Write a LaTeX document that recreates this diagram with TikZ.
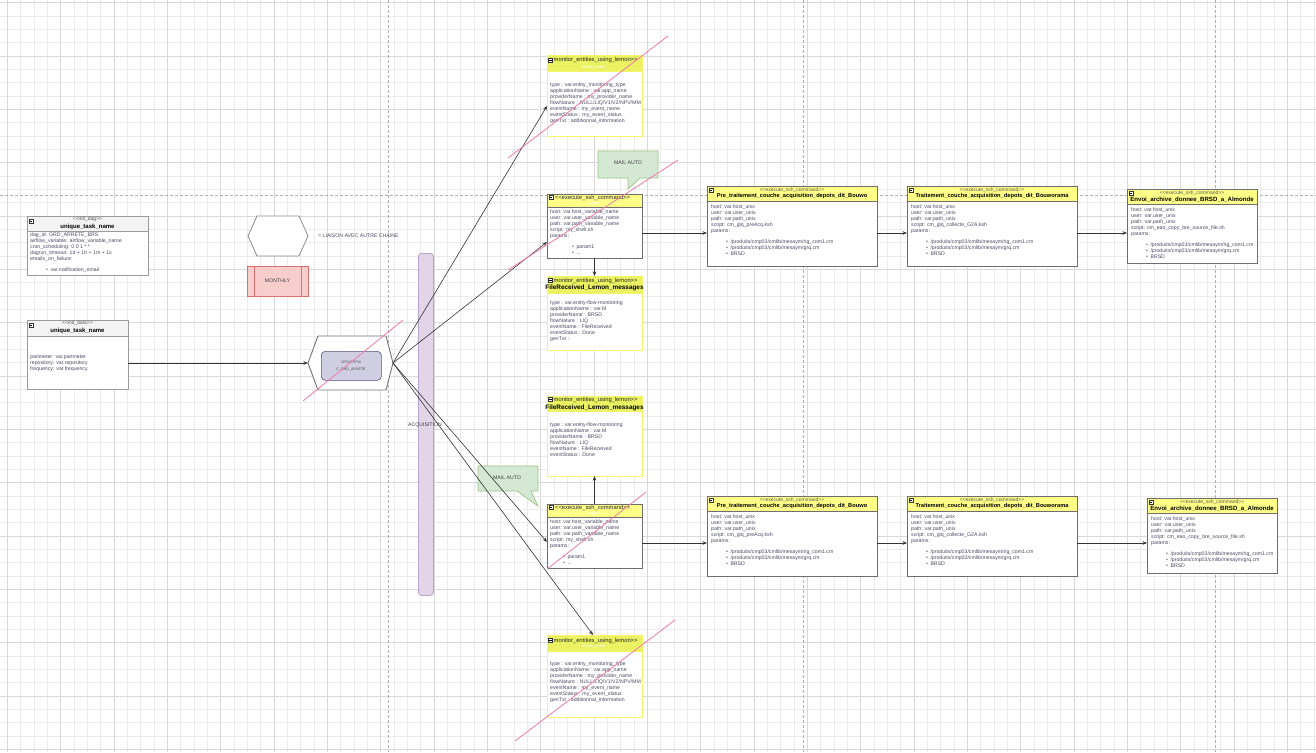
\documentclass[tikz,border=0pt]{standalone}
\usepackage{fontspec}
\setmainfont{Liberation Sans}
\usetikzlibrary{arrows.meta}
\definecolor{gridminor}{HTML}{EBEBEB}
\definecolor{gridmajor}{HTML}{D9D9D9}
\definecolor{pagebrk}{HTML}{AFAFAF}
\definecolor{bodyc}{HTML}{4A4A66}
\definecolor{titlec}{HTML}{555555}
\definecolor{initfill}{HTML}{F3F3F3}
\definecolor{initdraw}{HTML}{9A9A9A}
\definecolor{sshfill}{HTML}{FFFF88}
\definecolor{sshdraw}{HTML}{6E6E6E}
\definecolor{monfill}{HTML}{EAF262}
\definecolor{mondraw}{HTML}{F5F56A}
\definecolor{pinkc}{HTML}{F27AA8}
\definecolor{connc}{HTML}{333333}
\definecolor{mailfill}{HTML}{D5E8D4}
\definecolor{maildraw}{HTML}{9CC487}
\definecolor{monthfill}{HTML}{F8CECC}
\definecolor{monthdraw}{HTML}{D9716C}
\definecolor{acqfill}{HTML}{E1D5E7}
\definecolor{acqdraw}{HTML}{B9A3C9}
\definecolor{updfill}{HTML}{D0CEE2}
\definecolor{upddraw}{HTML}{56517E}
\newcommand\LL{<\kern0pt<}
\newcommand\GG{>\kern0pt>}
\newcommand\bl[2]{\hspace*{#1pt}\textbullet\hspace{2.5pt}#2}
\newcommand{\umlbox}[9]{%
  \node[anchor=north west, minimum width=#4pt, minimum height=#5pt, inner sep=0pt, outer sep=0pt] (#1) at (#2,#3) {};
  \fill[white] (#2,#3) rectangle ++(#4,#5);
  \fill[#7] (#2,#3) rectangle ++(#4,#6);
  \draw[#8, line width=#9] (#2,#3) rectangle ++(#4,#5);
  \draw[#8, line width=0.5pt] (#2,#3+#6) -- ++(#4,0);
}
\newcommand{\mico}[2]{%
  \draw[line width=0.4pt, fill=white, draw=black!80] (#1,#2) rectangle ++(4,4);
  \draw[line width=0.5pt] (#1+0.8,#2+2) -- ++(2.4,0);
}
\newcommand{\rowbox}[8]{% name x y w h bold script boldsize
  \umlbox{#1}{#2}{#3}{#4}{#5}{15}{sshfill}{sshdraw}{0.7pt}
  \mico{#2+2}{#3+2}
  \node[rtitle] (#1t) at (#2+#4/2,#3+4) {\LL execute\_ssh\_command\GG};
  \node[rbold, font=\fontsize{#8}{#8}\selectfont\bfseries] (#1b) at (#2+#4/2,#3+10.5) {#6};
  \node[body] (#1x) at (#2+4,#3+18.5) {host: var.host\_unix\\user: var.user\_unix\\path: var.path\_unix\\script: #7\\params:\\[5pt]\bl{15}{/produits/cmp03/cmlib/mesaym/rig\_com1.cm}\\\bl{15}{/produits/cmp03/cmlib/mesaym/grq.cm}\\\bl{15}{BRSD}};
}
\newcommand{\sshbox}[4]{% name x y bulletoffset
  \umlbox{#1}{#2}{#3}{95}{64}{13}{sshfill}{sshdraw}{0.7pt}
  \mico{#2+2}{#3+1.5}
  \node[stitle, anchor=west] (#1t) at (#2+8,#3+3.5) {\LL execute\_ssh\_command\GG};
  \node[faint] (#1f) at (#2+47,#3+9) {name};
  \node[body] (#1x) at (#2+3,#3+16) {host: var.host\_variable\_name\\user: var.user\_variable\_name\\path: var.path\_variable\_name\\script: my\_shell.sh\\params:\\[5pt]\bl{#4}{param1}\\\bl{#4}{...}};
}
\begin{document}
\begin{tikzpicture}[x=1pt,y=-1pt,
  body/.style={anchor=north west, inner sep=0pt, align=left, font=\fontsize{5.2}{6}\selectfont, text=bodyc},
  rtitle/.style={inner sep=0pt, font=\fontsize{5}{5}\selectfont, text=titlec},
  rbold/.style={inner sep=0pt, text=black},
  stitle/.style={inner sep=0pt, font=\fontsize{5.8}{6}\selectfont, text=black!85},
  mtitle/.style={inner sep=0pt, font=\fontsize{5.8}{6}\selectfont, text=black!85},
  faint/.style={inner sep=0pt, font=\fontsize{4}{4}\selectfont, text=white},
  conn/.style={draw=connc, line width=0.6pt, -{Stealth[length=4.5pt,width=3.5pt]}},
  pinkline/.style={draw=pinkc, line width=0.8pt},
  pagebreak/.style={draw=pagebrk, line width=0.6pt, dash pattern=on 3pt off 2pt},
  lbl/.style={inner sep=0pt, font=\fontsize{5.2}{6}\selectfont, text=black!75}]
\useasboundingbox (0,0) rectangle (1316,752);
\fill[white] (0,0) rectangle (1316,752);
% grid
\foreach \i in {0,...,98} {\draw[gridminor, line width=0.4pt] ({7.3+13.333*\i},0) -- ++(0,752);}
\foreach \i in {0,...,56} {\draw[gridminor, line width=0.4pt] (0,{2.4+13.333*\i}) -- ++(1316,0);}
\foreach \i in {0,...,24} {\draw[gridmajor, line width=0.4pt] ({7.3+53.333*\i},0) -- ++(0,752);}
\foreach \i in {0,...,14} {\draw[gridmajor, line width=0.4pt] (0,{2.4+53.333*\i}) -- ++(1316,0);}
% page breaks
\draw[pagebreak] (388,0) -- (388,752);
\draw[pagebreak] (803,0) -- (803,752);
\draw[pagebreak] (1215,0) -- (1215,752);
\draw[pagebreak] (0,195) -- (1316,195);

% init_dag
\umlbox{initdag}{27}{216}{121}{59}{15}{initfill}{initdraw}{0.8pt}
\mico{29}{219}
\node[rtitle] (initdagt) at (87.5,219.5) {\LL init\_dag\GG};
\node[inner sep=0pt, font=\fontsize{6}{6}\selectfont\bfseries] (initdagb) at (87.5,227) {unique\_task\_name};
\node[body] (initdagx) at (30,233) {dag\_id: GRD\_ARRETE\_BRS\\airflow\_variable: airflow\_variable\_name\\cron\_scheduling: 0 0 1 * *\\dagrun\_timeout: 1d + 1h + 1m + 1s\\emails\_on\_failure:\\[5pt]\bl{16}{var.notification\_email}};

% init_data
\umlbox{initdata}{27}{320}{101}{69}{16}{initfill}{initdraw}{0.8pt}
\mico{29}{323}
\node[rtitle] (initdatat) at (77.5,323.5) {\LL init\_data\GG};
\node[inner sep=0pt, font=\fontsize{6}{6}\selectfont\bfseries] (initdatab) at (77.5,331) {unique\_task\_name};
\node[body] (initdatax) at (30,355) {parimeter: var.parimeter\\repository: var.repository\\frequency: var.frequency};

% legend hexagon
\draw[draw=black!45, line width=0.8pt, fill=white] (248,236) -- (257,216) -- (299,216) -- (308,236) -- (299,256) -- (257,256) -- cycle;
\node[lbl, anchor=west, text=bodyc] (liaison) at (318,236) {= LIAISON AVEC AUTRE CHAINE};
% monthly
\node[draw=monthdraw, fill=monthfill, line width=0.8pt, anchor=north west, minimum width=61pt, minimum height=30pt, inner sep=0pt] (monthly) at (247,266) {};
\draw[monthdraw, line width=0.8pt] (254,266) -- (254,296) (301,266) -- (301,296);
\node[lbl] (monthlyt) at (277.5,281) {MONTHLY};

% acquisition bar
\node[draw=acqdraw, fill=acqfill, line width=0.8pt, rounded corners=3pt, anchor=north west, minimum width=15pt, minimum height=342pt, inner sep=0pt] (acq) at (418,253) {};
\node[lbl] (acqt) at (425,425) {ACQUISITION};

% central hexagon
\draw[draw=black!55, line width=0.9pt, fill=white] (308,363) -- (318,336) -- (386,336) -- (393,363) -- (386,390) -- (318,390) -- cycle;
\coordinate (hexL) at (308,363);
\coordinate (hexR) at (393,363);
\node[draw=upddraw, fill=updfill, line width=0.6pt, rounded corners=4pt, anchor=north west, minimum width=60pt, minimum height=29pt, inner sep=0pt] (upd) at (321,351) {};
\node[inner sep=0pt, align=center, font=\fontsize{3.6}{7.5}\selectfont, text=black!70] (updt) at (351,366) {UPDATEFW\\C\_GRD\_ARRETE};

% MAIL AUTO callouts
\draw[draw=maildraw, fill=mailfill, line width=0.7pt] (598,151) -- (658,151) -- (658,178) -- (640,178) -- (628,189) -- (628,178) -- (598,178) -- cycle;
\node[lbl] (mail1) at (628,163) {MAIL AUTO};
\draw[draw=maildraw, fill=mailfill, line width=0.7pt] (478,466) -- (538,466) -- (538,491) -- (531,491) -- (538,506) -- (517,491) -- (478,491) -- cycle;
\node[lbl] (mail2) at (507,478) {MAIL AUTO};

% monitor 1
\umlbox{mon1}{547}{56}{95}{80}{15}{monfill}{mondraw}{1pt}
\mico{548.5}{58}
\node[mtitle, anchor=west] (mon1t) at (553.5,60.5) {monitor\_entities\_using\_lemon\GG};
\node[faint] (mon1f) at (594,67) {lemon\_event};
\node[body] (mon1x) at (550,83) {type : var.entity\_monitoring\_type\\applicationName : var.app\_name\\providerName : my\_provider\_name\\flowNature : NULL/LIQ/V1/V2/NPV/MM\\eventName : my\_event\_name\\eventStatus : my\_event\_status\\genTxt : additionnal\_information};

% ssh 1
\sshbox{ssh1}{547}{194}{22}

% monitor 2
\umlbox{mon2}{547}{276}{95}{74}{17}{monfill}{mondraw}{1pt}
\mico{548.5}{278}
\node[mtitle, anchor=west] (mon2t) at (553.5,280.5) {monitor\_entities\_using\_lemon\GG};
\node[inner sep=0pt, font=\fontsize{6.4}{6.4}\selectfont\bfseries] (mon2b) at (594.5,287.5) {FileReceived\_Lemon\_messages};
\node[body] (mon2x) at (550,301) {type : var.entity-flow-monitoring\\applicationName : var.M\\providerName : BRSD\\flowNature : LIQ\\eventName : FileReceived\\eventStatus : Done\\genTxt :};

% monitor 3
\umlbox{mon3}{547}{396}{95}{80}{15}{monfill}{mondraw}{1pt}
\mico{548.5}{397.5}
\node[mtitle, anchor=west] (mon3t) at (553.5,400) {monitor\_entities\_using\_lemon\GG};
\node[inner sep=0pt, font=\fontsize{6.4}{6.4}\selectfont\bfseries] (mon3b) at (594.5,407.5) {FileReceived\_Lemon\_messages};
\node[body] (mon3x) at (550,423) {type : var.entity-flow-monitoring\\applicationName : var.M\\providerName : BRSD\\flowNature : LIQ\\eventName : FileReceived\\eventStatus : Done};

% ssh 2
\sshbox{ssh2}{547}{504}{13}

% monitor 4
\umlbox{mon4}{547}{635}{95}{82}{16}{monfill}{mondraw}{1pt}
\mico{548.5}{638}
\node[mtitle, anchor=west] (mon4t) at (553.5,640.5) {monitor\_entities\_using\_lemon\GG};
\node[faint] (mon4f) at (594,646.5) {lemon\_event};
\node[body] (mon4x) at (550,662) {type : var.entity\_monitoring\_type\\applicationName : var.app\_name\\providerName : my\_provider\_name\\flowNature : NULL/LIQ/V1/V2/NPV/MM\\eventName : my\_event\_name\\eventStatus : my\_event\_status\\genTxt : additionnal\_information};

% row boxes
\rowbox{raa}{707}{186}{170}{80}{Pre\_traitement\_couche\_acquisition\_depots\_dit\_Bouwo}{cm\_glq\_preAcq.ksh}{5.7}
\rowbox{rab}{907}{186}{170}{80}{Traitement\_couche\_acquisition\_depots\_dit\_Bouworama}{cm\_glq\_collecte\_G2A.ksh}{5.7}
\rowbox{rac}{1127}{189}{130}{74}{Envoi\_archive\_donnee\_BRSD\_a\_Almonde}{cm\_eao\_copy\_bre\_source\_file.sh}{6.1}
\rowbox{rba}{707}{496}{170}{80}{Pre\_traitement\_couche\_acquisition\_depots\_dit\_Bouwo}{cm\_glq\_preAcq.ksh}{5.7}
\rowbox{rbb}{907}{496}{170}{80}{Traitement\_couche\_acquisition\_depots\_dit\_Bouworama}{cm\_glq\_collecte\_G2A.ksh}{5.7}
\rowbox{rbc}{1147}{498}{130}{75}{Envoi\_archive\_donnee\_BRSD\_a\_Almonde}{cm\_eao\_copy\_bre\_source\_file.sh}{6.1}

% connector end points
\coordinate (m1in) at (547,106);
\coordinate (s1in) at (547,242);
\coordinate (s2in) at (547,542);
\coordinate (m4in) at (593,635);
\coordinate (s1bot) at (594.5,258);
\coordinate (m2top) at (594.5,276);
\coordinate (s2top) at (594.5,504);
\coordinate (m3bot) at (594.5,476);
\coordinate (idout) at (128,363);
\coordinate (s1out) at (642,233);
\coordinate (s2out) at (642,543);

% connectors
\draw[conn] (idout) -- (hexL);
\draw[conn] (hexR) -- (m1in);
\draw[conn] (hexR) -- (s1in);
\draw[conn] (hexR) -- (s2in);
\draw[conn] (hexR) -- (m4in);
\draw[conn] (s1bot) -- (m2top);
\draw[conn] (s2top) -- (m3bot);
\draw[conn] (s1out) -- (raa.west |- s1out);
\draw[conn] (raa.east |- s1out) -- (rab.west |- s1out);
\draw[conn] (rab.east |- s1out) -- (rac.west |- s1out);
\draw[conn] (s2out) -- (rba.west |- s2out);
\draw[conn] (rba.east |- s2out) -- (rbb.west |- s2out);
\draw[conn] (rbb.east |- s2out) -- (rbc.west |- s2out);

% pink strike lines
\draw[pinkline] (508,158) -- (668,36);
\draw[pinkline] (508,270) -- (678,160);
\draw[pinkline] (303,401) -- (403,320);
\draw[pinkline] (547,569) -- (646,492);
\draw[pinkline] (515,741) -- (675,620);
\end{tikzpicture}
\end{document}
